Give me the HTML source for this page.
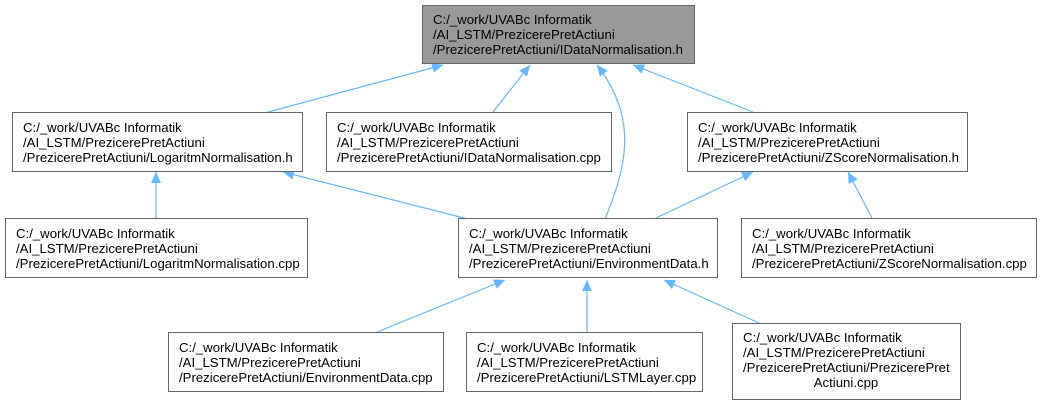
<!DOCTYPE html>
<html><head><meta charset="utf-8"><style>
html,body{margin:0;padding:0;background:#fff;}
svg{display:block;}
text{font-family:"Liberation Sans",Arial,sans-serif;font-size:13.2px;fill:#000;}
</style></head><body>
<svg width="1042" height="405" viewBox="0 0 1042 405" xmlns="http://www.w3.org/2000/svg">
<defs>
<marker id="ah" markerWidth="12" markerHeight="10" refX="11" refY="5" orient="auto" markerUnits="userSpaceOnUse">
<path d="M0,0 L11,5 L0,10 z" fill="#63b8ff"/>
</marker>
</defs>
<g stroke="#63b8ff" stroke-width="1.2" fill="none" marker-end="url(#ah)">
<line x1="268" y1="112" x2="443" y2="65"/>
<line x1="493" y1="112" x2="530" y2="65"/>
<path d="M605,219 C625,170 640,120 597,65"/>
<line x1="753" y1="112" x2="633" y2="65"/>
<line x1="156" y1="219" x2="156" y2="172"/>
<line x1="468" y1="219" x2="283" y2="172"/>
<line x1="654" y1="219" x2="753" y2="172"/>
<line x1="872" y1="218" x2="848" y2="172"/>
<line x1="377" y1="332" x2="505" y2="280"/>
<line x1="587" y1="333" x2="587" y2="280"/>
<line x1="759" y1="323" x2="664" y2="280"/>
</g>
<g stroke="#666" stroke-width="1" fill="#fff">
<rect x="422.5" y="5.5" width="272" height="58" fill="#999"/>
<rect x="12.5" y="112.5" width="290" height="59"/>
<rect x="326.5" y="112.5" width="285" height="59"/>
<rect x="687.5" y="112.5" width="280" height="59"/>
<rect x="5.5" y="218.5" width="302" height="59"/>
<rect x="458.5" y="218.5" width="259" height="59"/>
<rect x="741.5" y="218.5" width="295" height="59"/>
<rect x="168.5" y="332.5" width="275" height="59"/>
<rect x="466.5" y="332.5" width="236" height="59"/>
<rect x="732.5" y="323.5" width="228" height="76"/>
</g>
<g>
<text x="433" y="24">C:/_work/UVABc Informatik</text>
<text x="433" y="39">/AI_LSTM/PrezicerePretActiuni</text>
<text x="433" y="54">/PrezicerePretActiuni/IDataNormalisation.h</text>

<text x="23" y="132">C:/_work/UVABc Informatik</text>
<text x="23" y="147">/AI_LSTM/PrezicerePretActiuni</text>
<text x="23" y="162">/PrezicerePretActiuni/LogaritmNormalisation.h</text>

<text x="337" y="132">C:/_work/UVABc Informatik</text>
<text x="337" y="147">/AI_LSTM/PrezicerePretActiuni</text>
<text x="337" y="162">/PrezicerePretActiuni/IDataNormalisation.cpp</text>

<text x="698" y="132">C:/_work/UVABc Informatik</text>
<text x="698" y="147">/AI_LSTM/PrezicerePretActiuni</text>
<text x="698" y="162">/PrezicerePretActiuni/ZScoreNormalisation.h</text>

<text x="16" y="238">C:/_work/UVABc Informatik</text>
<text x="16" y="253">/AI_LSTM/PrezicerePretActiuni</text>
<text x="16" y="268">/PrezicerePretActiuni/LogaritmNormalisation.cpp</text>

<text x="469" y="238">C:/_work/UVABc Informatik</text>
<text x="469" y="253">/AI_LSTM/PrezicerePretActiuni</text>
<text x="469" y="268">/PrezicerePretActiuni/EnvironmentData.h</text>

<text x="752" y="238">C:/_work/UVABc Informatik</text>
<text x="752" y="253">/AI_LSTM/PrezicerePretActiuni</text>
<text x="752" y="268">/PrezicerePretActiuni/ZScoreNormalisation.cpp</text>

<text x="179" y="352">C:/_work/UVABc Informatik</text>
<text x="179" y="367">/AI_LSTM/PrezicerePretActiuni</text>
<text x="179" y="382">/PrezicerePretActiuni/EnvironmentData.cpp</text>

<text x="477" y="352">C:/_work/UVABc Informatik</text>
<text x="477" y="367">/AI_LSTM/PrezicerePretActiuni</text>
<text x="477" y="382">/PrezicerePretActiuni/LSTMLayer.cpp</text>

<text x="743" y="342">C:/_work/UVABc Informatik</text>
<text x="743" y="357">/AI_LSTM/PrezicerePretActiuni</text>
<text x="743" y="372">/PrezicerePretActiuni/PrezicerePret</text>
<text x="846" y="387" text-anchor="middle">Actiuni.cpp</text>
</g>
</svg>
</body></html>
